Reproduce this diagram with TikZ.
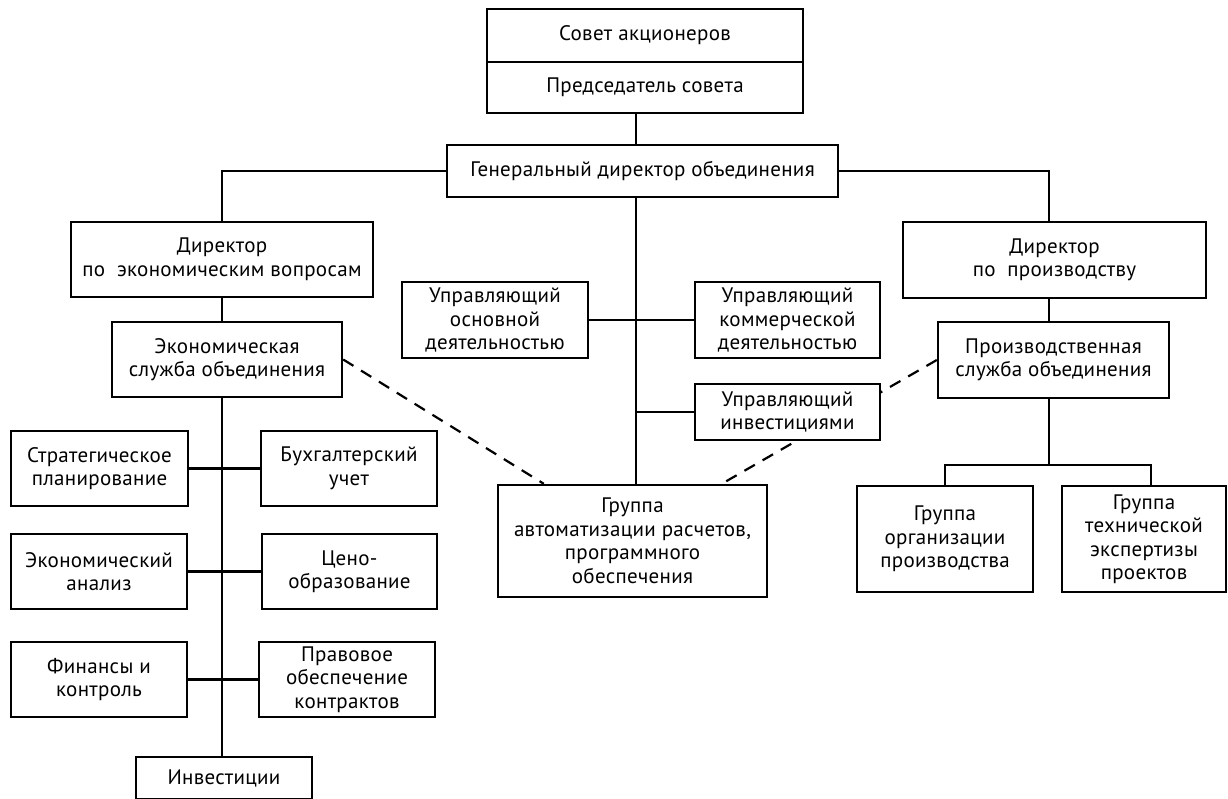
\documentclass[tikz,border=0pt]{standalone}
\usepackage{fontspec}
\setmainfont{PT Sans}[LetterSpace=1.5]
\usetikzlibrary{calc,backgrounds}
\tikzset{
  box/.style={draw, line width=2.4pt, fill=white, align=center, inner sep=0pt,
    font=\fontsize{21}{23.5}\selectfont},
  ln/.style={line width=2.4pt},
  dsh/.style={line width=2.2pt, dash pattern=on 12pt off 9pt}
}
\newcommand\bx[6]{\node[box, minimum width=#4pt, minimum height=#5pt] (#1) at (#2,#3) {#6};}
\begin{document}
\begin{tikzpicture}[x=1pt,y=-1pt]
\useasboundingbox (0,0) rectangle (1228,799);
\bx{sov}{645}{35.5}{316}{53}{Совет акционеров}
\bx{pred}{645}{87.5}{316}{51}{Председатель совета}
\bx{gen}{642.5}{171}{391}{52}{Генеральный директор объединения}
\bx{dirE}{222}{259.5}{302}{75}{Директор\\по\ \ экономическим вопросам}
\bx{ekS}{227}{359.5}{230}{75}{Экономическая\\служба объединения}
\bx{osn}{495}{320}{186}{76}{Управляющий\\основной\\деятельностью}
\bx{kom}{787.5}{320}{185}{76}{Управляющий\\коммерческой\\деятельностью}
\bx{invU}{787.5}{412}{185}{56}{Управляющий\\инвестициями}
\bx{grp}{632.5}{541}{269}{112}{Группа\\автоматизации расчетов,\\программного\\обеспечения}
\bx{dirP}{1054.5}{260}{303}{76}{Директор\\по\ \ производству}
\bx{proS}{1053.5}{360}{231}{76}{Производственная\\служба объединения}
\bx{orgG}{945}{539}{176}{106}{Группа\\организации\\производства}
\bx{tech}{1144}{539}{164}{106}{Группа\\технической\\экспертизы\\проектов}
\bx{strat}{99.5}{468.5}{177}{75}{Стратегическое\\планирование}
\bx{buh}{349}{468.5}{176}{75}{Бухгалтерский\\учет}
\bx{anal}{99}{571.5}{176}{75}{Экономический\\анализ}
\bx{ceno}{349.5}{571.5}{175}{75}{Цено-\\образование}
\bx{fin}{99}{679.5}{176}{75}{Финансы и\\контроль}
\bx{prav}{347}{679.5}{176}{75}{Правовое\\обеспечение\\контрактов}
\bx{inv}{224}{778}{176}{42}{Инвестиции}
\coordinate (cv) at (636,0);
\coordinate (lv) at (222,0);
\coordinate (pv) at (1049,0);
\coordinate (tv) at (1151,0);
\coordinate (bus) at (1049,465);
\coordinate (dl) at ([xshift=47pt]grp.north west);
\coordinate (dr) at ([xshift=225pt]grp.north west);
\begin{scope}[on background layer]
\draw[ln] (pred.south -| cv) -- (gen.north -| cv);
\draw[ln] (gen.west) -| (dirE.north -| lv);
\draw[ln] (gen.east) -| (dirP.north -| pv);
\draw[ln] (gen.south -| cv) -- (grp.north -| cv);
\draw[ln] (osn.east) -- (kom.west);
\draw[ln] (invU.west -| cv) -- (invU.west);
\draw[ln] (dirE.south -| lv) -- (ekS.north -| lv);
\draw[ln] (ekS.south -| lv) -- (inv.north -| lv);
\draw[ln] (strat.east) -- (buh.west);
\draw[ln] (anal.east) -- (ceno.west);
\draw[ln] (fin.east) -- (prav.west);
\draw[ln] (dirP.south -| pv) -- (proS.north -| pv);
\draw[ln] (proS.south -| pv) -- (bus);
\draw[ln] (orgG.north) |- (bus) -| (tech.north -| tv);
\draw[dsh] (ekS.east) -- (dl);
\draw[dsh] (proS.west) -- (dr);
\end{scope}
\end{tikzpicture}
\end{document}
